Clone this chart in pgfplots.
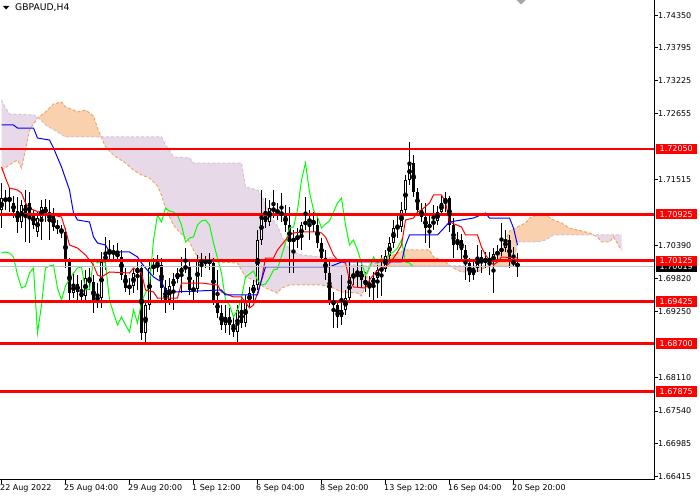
\documentclass[border=0pt]{standalone}
\usepackage{fontspec}
\setmainfont{DejaVu Sans}
\usepackage{pgfplots}
\usepackage{pgfplotstable}
\pgfplotsset{compat=1.18}
\usepgfplotslibrary{fillbetween}
\definecolor{sandy}{HTML}{F4A460}
\definecolor{thist}{HTML}{D8BFD8}
\definecolor{mtlime}{HTML}{00FF00}
\definecolor{bidgrey}{HTML}{C0C0C0}
\newcommand\lbl{\fontsize{8bp}{9bp}\selectfont}

\pgfplotstableread{
i o h l c
0 1.70998 1.71462 1.70688 1.71204
1 1.71204 1.71342 1.70998 1.71153
2 1.71153 1.71376 1.70964 1.71222
3 1.71118 1.71239 1.70860 1.70964
4 1.70981 1.71222 1.70602 1.70792
5 1.70792 1.71170 1.70688 1.71084
6 1.71084 1.71342 1.70448 1.70929
7 1.71118 1.71308 1.70430 1.70929
8 1.70929 1.70998 1.70671 1.70740
9 1.70620 1.70964 1.70534 1.70860
10 1.70860 1.71170 1.70482 1.71050
11 1.70929 1.71187 1.70792 1.71050
12 1.70964 1.71170 1.70482 1.70792
13 1.70895 1.71032 1.70637 1.70706
14 1.70740 1.70826 1.70585 1.70671
15 1.70671 1.70740 1.70516 1.70620
16 1.70620 1.70688 1.70000 1.70104
17 1.70104 1.70172 1.69450 1.69570
18 1.69570 1.69914 1.69484 1.69725
19 1.69725 1.69880 1.69450 1.69588
20 1.69588 1.69794 1.69416 1.69502
21 1.69519 1.69966 1.69416 1.69828
22 1.69828 1.70000 1.69622 1.69742
23 1.69760 1.69880 1.69226 1.69398
24 1.69450 1.69742 1.69312 1.69502
25 1.69484 1.70276 1.69312 1.70104
26 1.70104 1.70534 1.69966 1.70258
27 1.70258 1.70482 1.70104 1.70276
28 1.70276 1.70396 1.70138 1.70258
29 1.70258 1.70430 1.70104 1.70190
30 1.70190 1.70310 1.69794 1.69880
31 1.69880 1.70000 1.69588 1.69656
32 1.69656 1.69828 1.69536 1.69691
33 1.69691 1.70000 1.69570 1.69914
34 1.69914 1.70104 1.69622 1.70000
35 1.70000 1.70052 1.68762 1.68882
36 1.68882 1.69450 1.68728 1.69364
37 1.69364 1.70104 1.69278 1.70000
38 1.70000 1.70172 1.69880 1.70035
39 1.70035 1.70224 1.69932 1.70052
40 1.70052 1.70172 1.69450 1.69656
41 1.69656 1.69794 1.69226 1.69450
42 1.69450 1.69828 1.69364 1.69691
43 1.69691 1.69914 1.69278 1.69811
44 1.69811 1.70000 1.69742 1.69914
45 1.69914 1.70190 1.69570 1.70000
46 1.70000 1.70344 1.69914 1.70018
47 1.70018 1.70104 1.69536 1.69622
48 1.69622 1.69794 1.69450 1.69639
49 1.69639 1.70224 1.69570 1.70138
50 1.70138 1.70258 1.69846 1.70086
51 1.70086 1.70207 1.70000 1.70121
52 1.70121 1.70258 1.69966 1.70086
53 1.70086 1.70172 1.69364 1.69450
54 1.69450 1.69966 1.69140 1.69226
55 1.69226 1.69364 1.68934 1.69020
56 1.69020 1.69364 1.68882 1.69158
57 1.69158 1.69312 1.68848 1.69020
58 1.69020 1.69192 1.68814 1.68900
59 1.68900 1.69364 1.68728 1.69278
60 1.69278 1.69502 1.68968 1.69054
61 1.69054 1.69536 1.68986 1.69416
62 1.69416 1.69674 1.69312 1.69570
63 1.69570 1.69794 1.69450 1.69708
64 1.69708 1.70654 1.69622 1.70482
65 1.70482 1.71342 1.70396 1.70912
66 1.70912 1.71204 1.70688 1.70792
67 1.70792 1.71170 1.70723 1.71032
68 1.71032 1.71342 1.70860 1.70981
69 1.70981 1.71118 1.70826 1.70964
70 1.70964 1.71290 1.70792 1.70912
71 1.70912 1.71084 1.70620 1.70740
72 1.70740 1.71050 1.69914 1.70448
73 1.70448 1.70654 1.69914 1.70516
74 1.70516 1.70688 1.70344 1.70534
75 1.70534 1.70792 1.70310 1.70740
76 1.70740 1.71222 1.70654 1.70809
77 1.70809 1.70998 1.70482 1.70826
78 1.70826 1.70964 1.70620 1.70740
79 1.70740 1.70860 1.70344 1.70430
80 1.70430 1.70516 1.70104 1.70172
81 1.70172 1.70310 1.69794 1.69914
82 1.69914 1.70104 1.69364 1.69450
83 1.69450 1.69588 1.68968 1.69364
84 1.69364 1.69450 1.68968 1.69158
85 1.69158 1.69880 1.69020 1.69278
86 1.69278 1.69622 1.69192 1.69484
87 1.69484 1.70104 1.69416 1.69846
88 1.69846 1.70000 1.69708 1.69897
89 1.69897 1.70104 1.69656 1.69949
90 1.69949 1.70052 1.69674 1.69794
91 1.69794 1.69932 1.69588 1.69708
92 1.69708 1.69863 1.69502 1.69725
93 1.69725 1.69932 1.69450 1.69828
94 1.69828 1.70052 1.69484 1.69966
95 1.69966 1.70224 1.69519 1.69983
96 1.69983 1.70310 1.69932 1.70207
97 1.70207 1.70534 1.70138 1.70430
98 1.70430 1.70826 1.70344 1.70688
99 1.70688 1.70912 1.70516 1.70706
100 1.70706 1.71136 1.70620 1.70998
101 1.70998 1.71600 1.70912 1.71514
102 1.71514 1.72168 1.71428 1.71806
103 1.71806 1.71944 1.71222 1.71308
104 1.71308 1.71376 1.70946 1.70998
105 1.70998 1.71118 1.70792 1.70878
106 1.70878 1.71118 1.70430 1.70688
107 1.70688 1.70912 1.70344 1.70757
108 1.70757 1.71084 1.70654 1.70809
109 1.70809 1.71067 1.70740 1.70964
110 1.70964 1.71239 1.70912 1.71118
111 1.71118 1.71308 1.70964 1.71204
112 1.71204 1.71239 1.70620 1.70740
113 1.70740 1.70860 1.70172 1.70396
114 1.70396 1.70620 1.70310 1.70482
115 1.70482 1.70585 1.70138 1.70310
116 1.70310 1.70396 1.69794 1.70086
117 1.70086 1.70172 1.69760 1.69880
118 1.69880 1.70104 1.69794 1.70000
119 1.70000 1.70396 1.69932 1.70190
120 1.70190 1.70310 1.69914 1.70086
121 1.70086 1.70276 1.70000 1.70172
122 1.70172 1.70276 1.69880 1.70104
123 1.70104 1.70344 1.69570 1.70241
124 1.70241 1.70396 1.70104 1.70276
125 1.70276 1.70774 1.70207 1.70344
126 1.70344 1.70654 1.70276 1.70482
127 1.70482 1.70568 1.70000 1.70104
128 1.70104 1.70362 1.70035 1.70086
129 1.70086 1.70258 1.69846 1.70018
}\candles

\pgfplotstableread{
x y
0 1.71738
1 1.71548
2 1.71376
4 1.71342
5 1.71290
6 1.71118
7 1.71032
8 1.70998
10 1.70946
15 1.70878
16 1.70654
17 1.70396
19 1.70344
21 1.70224
23 1.70052
24 1.69880
25 1.69846
27 1.69932
32 1.69914
33 1.70000
35 1.69914
36 1.69622
38 1.69588
39 1.69484
44 1.69484
45 1.69742
50 1.69742
54 1.69708
55 1.69588
58 1.69502
60 1.69502
62 1.69312
63 1.69364
64 1.69570
65 1.69794
66 1.70172
68 1.70172
69 1.70310
71 1.70482
72 1.70568
73 1.70602
75 1.70620
79 1.70620
80 1.70602
81 1.70534
83 1.70224
84 1.70138
86 1.70086
87 1.69794
88 1.69674
91 1.69656
92 1.69794
93 1.69880
94 1.69966
96 1.70018
97 1.70086
98 1.70172
99 1.70276
100 1.70396
101 1.70826
103 1.70860
104 1.70964
105 1.70998
107 1.71118
108 1.71256
110 1.71256
111 1.71136
112 1.70792
115 1.70706
116 1.70568
119 1.70568
120 1.70362
121 1.70224
122 1.70138
123 1.70052
124 1.70104
125 1.70190
129 1.70172
}\tenkan

\pgfplotstableread{
x y
0 1.72460
3 1.72460
4 1.72408
8 1.72408
9 1.72236
12 1.72202
13 1.72064
15 1.71738
17 1.71342
18 1.70946
19 1.70826
22 1.70792
23 1.70534
24 1.70430
26 1.70396
27 1.70276
32 1.70276
34 1.70190
35 1.70086
36 1.70000
38 1.69846
40 1.69760
41 1.69622
43 1.69588
55 1.69622
56 1.69536
64 1.69536
65 1.69794
66 1.70018
82 1.70018
85 1.70104
100 1.70104
101 1.70396
102 1.70568
109 1.70568
112 1.70792
118 1.70860
121 1.70946
122 1.70860
127 1.70860
128 1.70688
129 1.70396
}\kijun

\pgfplotstableread{
x y
0 1.71686
2 1.71772
4 1.71858
5 1.71720
6 1.72030
7 1.72374
9 1.72580
11 1.72684
13 1.72821
15 1.72856
16 1.72770
18 1.72718
19 1.72684
21 1.72718
23 1.72615
24 1.72408
26 1.72082
28 1.71944
31 1.71806
33 1.71686
35 1.71600
37 1.71548
39 1.71411
40 1.71256
41 1.71032
42 1.70878
43 1.70740
44 1.70654
45 1.70585
47 1.70448
48 1.70310
49 1.70190
51 1.70138
54 1.70104
59 1.70086
60 1.69966
61 1.69846
63 1.69794
64 1.69742
66 1.69656
69 1.69570
70 1.69656
72 1.69708
80 1.69708
83 1.69656
85 1.69588
89 1.69570
90 1.69519
91 1.69708
92 1.70069
94 1.70086
96 1.70207
98 1.70224
101 1.70310
107 1.70310
108 1.70190
111 1.70104
113 1.70000
115 1.69932
119 1.69932
121 1.70018
123 1.70018
125 1.70310
127 1.70637
129 1.70706
131 1.70774
132 1.70860
134 1.70912
136 1.70912
138 1.70826
140 1.70774
142 1.70688
144 1.70654
146 1.70620
147 1.70602
149 1.70534
150 1.70448
152 1.70448
153 1.70534
155 1.70310
}\spanA

\pgfplotstableread{
x y
0 1.72890
1 1.72752
2 1.72649
8 1.72632
9 1.72598
11 1.72460
14 1.72340
16 1.72254
40 1.72254
41 1.72116
43 1.71910
47 1.71892
48 1.71806
60 1.71806
61 1.71394
64 1.71342
65 1.71256
67 1.70912
69 1.70723
71 1.70396
73 1.70276
75 1.70224
83 1.70172
87 1.70069
90 1.70035
128 1.70035
129 1.70448
134 1.70448
136 1.70482
138 1.70568
155 1.70568
}\spanB

\begin{document}
\begin{tikzpicture}
\begin{axis}[
  at={(0bp,20bp)}, anchor=south west,
  scale only axis, width=654bp, height=480bp,
  xmin=-0.375, xmax=163.125,
  ymin=1.66354, ymax=1.7461,
  axis x line*=bottom, axis y line*=right,
  axis line style={black, line width=1bp},
  tick align=outside, major tick length=4bp,
  tick style={black, line width=1bp},
  /pgf/number format/assume math mode=true,
  every tick label/.append style={font=\lbl, inner sep=0pt},
  xtick={0,16,32,48,64,80,96,112,128},
  xticklabels={22 Aug 2022, 25 Aug 04:00, 29 Aug 20:00, 1 Sep 12:00, 6 Sep 04:00, 8 Sep 20:00, 13 Sep 12:00, 16 Sep 04:00, 20 Sep 20:00},
  xticklabel style={anchor=north west, xshift=-1.5bp},
  ytick={1.74350,1.73795,1.73225,1.72655,1.71515,1.70390,1.69820,1.69250,1.68110,1.67540,1.66985,1.66415},
  yticklabels={1.74350,1.73795,1.73225,1.72655,1.71515,1.70390,1.69820,1.69250,1.68110,1.67540,1.66985,1.66415},
  yticklabel style={anchor=west},
]
% cloud boundaries (invisible, named)
\addplot[draw=none, name path=spA, forget plot] table[x=x,y=y]{\spanA};
\addplot[draw=none, name path=spB, forget plot] table[x=x,y=y]{\spanB};
% cloud tint
\addplot[draw=none, fill=thist!60, forget plot] fill between[of=spA and spB, soft clip={(-1,1.6) rectangle (9.14,1.8)}];
\addplot[draw=none, fill=sandy!50, forget plot] fill between[of=spA and spB, soft clip={(9.14,1.6) rectangle (25,1.8)}];
\addplot[draw=none, fill=thist!60, forget plot] fill between[of=spA and spB, soft clip={(25,1.6) rectangle (91.9,1.8)}];
\addplot[draw=none, fill=sandy!50, forget plot] fill between[of=spA and spB, soft clip={(91.9,1.6) rectangle (112.33,1.8)}];
\addplot[draw=none, fill=thist!60, forget plot] fill between[of=spA and spB, soft clip={(112.33,1.6) rectangle (123.12,1.8)}];
\addplot[draw=none, fill=sandy!50, forget plot] fill between[of=spA and spB, soft clip={(123.12,1.6) rectangle (148,1.8)}];
\addplot[draw=none, fill=thist!60, forget plot] fill between[of=spA and spB, soft clip={(148,1.6) rectangle (156,1.8)}];
% span lines
\addplot[sandy, line width=1bp, dash pattern=on 3bp off 2bp, forget plot] table[x=x,y=y]{\spanA};
\addplot[thist, line width=1bp, dash pattern=on 3bp off 2bp, forget plot] table[x=x,y=y]{\spanB};
% wicks
\addplot[only marks, mark=none, forget plot,
  error bars/.cd, y dir=both, y explicit, error mark=none,
  error bar style={draw=black, solid, line width=1bp}]
  table[x=i, y expr={(\thisrow{h}+\thisrow{l})/2}, y error expr={(\thisrow{h}-\thisrow{l})/2}]{\candles};
% bodies
\addplot[only marks, mark=none, forget plot,
  error bars/.cd, y dir=both, y explicit, error mark=none,
  error bar style={draw=black, solid, line width=3bp}]
  table[x=i, y expr={(\thisrow{o}+\thisrow{c})/2}, y error expr={abs(\thisrow{o}-\thisrow{c})/2}]{\candles};
% bullish interiors
\addplot[only marks, mark=none, forget plot,
  error bars/.cd, y dir=both, y explicit, error mark=none,
  error bar style={draw=white, solid, line width=1bp}]
  table[x=i, y expr={(\thisrow{o}+\thisrow{c})/2}, y error expr={max(0,(\thisrow{c}-\thisrow{o})/2-0.000172)}]{\candles};
% Ichimoku lines
\addplot[mtlime, line width=1bp, forget plot, skip coords between index={0}{26}] table[x expr=\thisrow{i}-26, y=c]{\candles};
\addplot[red, line width=1bp, forget plot] table[x=x,y=y]{\tenkan};
\addplot[blue, line width=1bp, forget plot] table[x=x,y=y]{\kijun};
% bid line
\addplot[bidgrey, line width=1bp, forget plot] coordinates {(-0.375,1.70019) (163.125,1.70019)};
% horizontal levels
\pgfplotsinvokeforeach{1.72050,1.70925,1.70125,1.69425,1.68700,1.67875}{
  \addplot[red, line width=2.6bp, forget plot] coordinates {(-0.375,#1) (163.125,#1)};
}
\coordinate (Lbid) at (axis cs:163.125,1.70019);
\coordinate (L1) at (axis cs:163.125,1.72050);
\coordinate (L2) at (axis cs:163.125,1.70925);
\coordinate (L3) at (axis cs:163.125,1.70125);
\coordinate (L4) at (axis cs:163.125,1.69425);
\coordinate (L5) at (axis cs:163.125,1.68700);
\coordinate (L6) at (axis cs:163.125,1.67875);
\end{axis}
% price labels
\tikzset{pl/.style={fill=red, text=white, font=\lbl, inner xsep=4bp, inner ysep=0pt, minimum height=10.5bp, anchor=west, xshift=1.5bp}}
\node[pl, fill=black] at (Lbid) {1.70019};
\node[pl] at (L1) {1.72050};
\node[pl] at (L2) {1.70925};
\node[pl] at (L3) {1.70125};
\node[pl] at (L4) {1.69425};
\node[pl] at (L5) {1.68700};
\node[pl] at (L6) {1.67875};
% header
\fill (3bp,494bp) -- (9.3bp,494bp) -- (6.15bp,490.5bp) -- cycle;
\node[anchor=base west, inner sep=0pt, font=\fontsize{9.2bp}{10bp}\selectfont] at (15bp,489bp) {GBPAUD,H4};
\fill[black!35] (516.5bp,500bp) -- (525.5bp,500bp) -- (521bp,495.5bp) -- cycle;
\pgfresetboundingbox
\path[use as bounding box] (0,0) rectangle (700bp,500bp);
\end{tikzpicture}
\end{document}
